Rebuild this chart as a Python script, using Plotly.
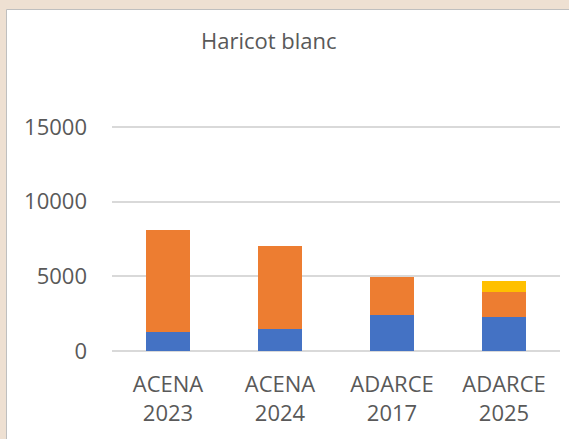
import plotly.graph_objects as go

# Data
categories = ["ACENA<br>2023", "ACENA<br>2024", "ADARCE<br>2017", "ADARCE<br>2025"]
serie_bleue = [1270, 1490, 2440, 2270]
serie_orange = [6800, 5560, 2490, 1660]
serie_jaune = [0, 0, 0, 760]
y_ticks = [0, 5000, 10000, 15000]
y_labels = ["0", "5000", "10000", "15000"]

W, H = 569, 439
L, R, T, B = 112, 9, 112, 88
pw, ph = W - L - R, H - T - B

def px(x):
    return (x - L) / pw

def py(y):
    return (H - B - y) / ph

fig = go.Figure()
for vals, col in [(serie_bleue, "#4472C4"), (serie_orange, "#ED7D31"), (serie_jaune, "#FFC000")]:
    fig.add_trace(go.Bar(x=categories, y=vals, marker=dict(color=col, line=dict(width=0)),
                         width=0.4, showlegend=False))

font = "Open Sans, Liberation Sans, sans-serif"
fig.update_layout(
    width=W, height=H,
    margin=dict(l=L, r=R, t=T, b=B),
    barmode="stack",
    paper_bgcolor="#EEE0D2",
    plot_bgcolor="white",
    font=dict(family=font, color="#595959", size=22),
    xaxis=dict(showgrid=False, showline=False, ticks="", tickfont=dict(size=22),
               ticklabelstandoff=18),
    yaxis=dict(range=[0, 16000], tickvals=y_ticks, ticktext=y_labels, showgrid=True,
               gridcolor="#D9D9D9", gridwidth=1.5, zeroline=True, zerolinecolor="#D9D9D9",
               zerolinewidth=1.5, showline=False, ticks="", tickfont=dict(size=22),
               ticklabelstandoff=24),
    shapes=[
        # white chart area with a thin grey edge
        dict(type="rect", xref="paper", yref="paper", layer="below",
             x0=px(6.5), x1=px(580), y0=py(9.5), y1=py(450),
             fillcolor="white", line=dict(color="#BFBFBF", width=1)),
    ],
    annotations=[
        dict(text="Haricot blanc", xref="paper", yref="paper", x=px(268.5), y=py(40),
             xanchor="center", yanchor="middle", showarrow=False,
             font=dict(size=22, color="#595959", family=font)),
    ],
)

fig.write_html("out.html")
